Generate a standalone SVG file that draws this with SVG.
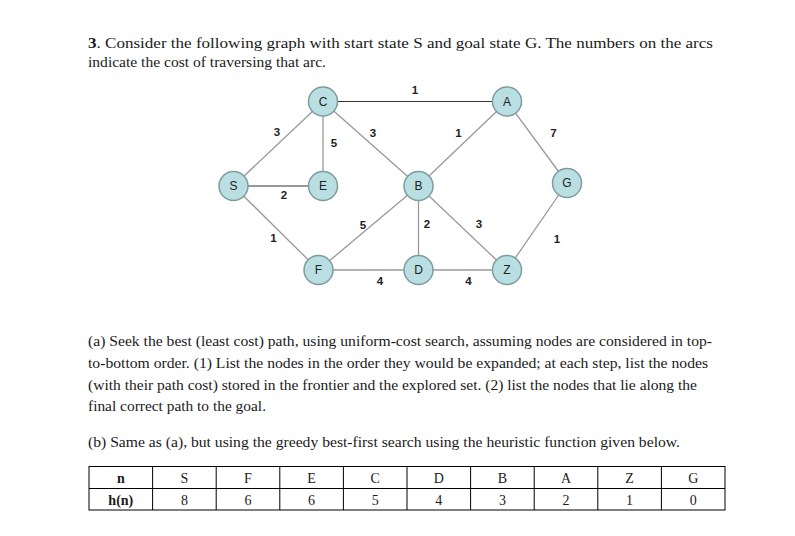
<svg xmlns="http://www.w3.org/2000/svg" width="795" height="536" viewBox="0 0 795 536">
<style>
.t{font-family:"Liberation Serif",serif;font-size:14.5px;fill:#1a1a1a}
.tc{font-family:"Liberation Serif",serif;font-size:14px;fill:#1a1a1a;text-anchor:middle}
.b{font-weight:bold}
.e{stroke:#999;stroke-width:1.3;fill:none}
.ed{stroke:#333;stroke-width:1.1;fill:none}
.n{fill:#b9dfe2;stroke:#7d9c9e;stroke-width:1.5}
.nl{font-family:"Liberation Sans",Arial,sans-serif;font-size:12px;fill:#222;text-anchor:middle}
.el{font-family:"Liberation Sans",Arial,sans-serif;font-size:11.5px;font-weight:bold;fill:#222;text-anchor:middle}
.tb{stroke:#000;stroke-width:1;fill:none}
</style>
<rect width="795" height="536" fill="#fff"/>
<text class="t" x="88" y="48" textLength="625" lengthAdjust="spacingAndGlyphs"><tspan class="b">3</tspan>. Consider  the  following  graph  with  start  state  S  and  goal  state  G.  The  numbers  on  the  arcs</text>
<text class="t" x="88" y="67" textLength="238" lengthAdjust="spacingAndGlyphs">indicate the cost of traversing that arc.</text>

<g id="connectors">
<line class="ed" x1="323" y1="101.5" x2="507" y2="101.5"/>
<line class="e" x1="323" y1="101.5" x2="233.5" y2="186"/>
<line class="e" x1="323" y1="101.5" x2="323" y2="186"/>
<line class="e" x1="323" y1="101.5" x2="418.5" y2="186"/>
<line class="e" x1="507" y1="101.5" x2="418.5" y2="186"/>
<line class="e" x1="507" y1="101.5" x2="567" y2="183"/>
<line class="ed" x1="233.5" y1="186" x2="323" y2="186"/>
<line class="e" x1="233.5" y1="186" x2="318.5" y2="270"/>
<line class="e" x1="318.5" y1="270" x2="418.5" y2="186"/>
<line class="e" x1="318.5" y1="270" x2="418.5" y2="270"/>
<line class="e" x1="418.5" y1="186" x2="418.5" y2="270"/>
<line class="e" x1="418.5" y1="186" x2="507" y2="270"/>
<line class="e" x1="418.5" y1="270" x2="507" y2="270"/>
<line class="e" x1="507" y1="270" x2="567" y2="183"/>
<text class="el" x="415" y="94">1</text>
<text class="el" x="277" y="135.5">3</text>
<text class="el" x="334" y="147">5</text>
<text class="el" x="373" y="136.5">3</text>
<text class="el" x="458.5" y="136.5">1</text>
<text class="el" x="553.5" y="136.5">7</text>
<text class="el" x="284" y="199">2</text>
<text class="el" x="273.5" y="242">1</text>
<text class="el" x="363" y="229">5</text>
<text class="el" x="380" y="285">4</text>
<text class="el" x="427" y="228">2</text>
<text class="el" x="479" y="228">3</text>
<text class="el" x="557" y="243">1</text>
<text class="el" x="468.5" y="285">4</text>
</g>

<g id="node-C"><circle class="n" cx="323" cy="101.5" r="14.5"/><text class="nl" x="323" y="105.7">C</text></g>
<g id="node-A"><circle class="n" cx="507" cy="101.5" r="14.5"/><text class="nl" x="507" y="105.7">A</text></g>
<g id="node-S"><circle class="n" cx="233.5" cy="186" r="14.5"/><text class="nl" x="233.5" y="190.2">S</text></g>
<g id="node-E"><circle class="n" cx="323" cy="186" r="14.5"/><text class="nl" x="323" y="190.2">E</text></g>
<g id="node-B"><circle class="n" cx="418.5" cy="186" r="14.5"/><text class="nl" x="418.5" y="190.2">B</text></g>
<g id="node-G"><circle class="n" cx="567" cy="183" r="14.5"/><text class="nl" x="567" y="187.2">G</text></g>
<g id="node-F"><circle class="n" cx="318.5" cy="270" r="14.5"/><text class="nl" x="318.5" y="274.2">F</text></g>
<g id="node-D"><circle class="n" cx="418.5" cy="270" r="14.5"/><text class="nl" x="418.5" y="274.2">D</text></g>
<g id="node-Z"><circle class="n" cx="507" cy="270" r="14.5"/><text class="nl" x="507" y="274.2">Z</text></g>

<text class="t" x="88" y="346" textLength="624" lengthAdjust="spacingAndGlyphs">(a) Seek the best (least cost) path, using uniform-cost search, assuming nodes are considered in top-</text>
<text class="t" x="88" y="368" textLength="620" lengthAdjust="spacingAndGlyphs">to-bottom order. (1) List the nodes in the order they would be expanded; at each step, list the nodes</text>
<text class="t" x="88" y="389.5" textLength="609" lengthAdjust="spacingAndGlyphs">(with their path cost) stored in the frontier and the explored set. (2) list the nodes that lie along the</text>
<text class="t" x="88" y="411" textLength="178" lengthAdjust="spacingAndGlyphs">final correct path to the goal.</text>
<text class="t" x="88" y="446.5" textLength="592" lengthAdjust="spacingAndGlyphs">(b) Same as (a), but using the greedy best-first search using the heuristic function given below.</text>

<g id="table">
<rect class="tb" x="89" y="466.5" width="636" height="43.5"/>
<line class="tb" x1="89" y1="488.5" x2="725" y2="488.5"/>
<line class="tb" x1="152.6" y1="466.5" x2="152.6" y2="510"/>
<line class="tb" x1="216.2" y1="466.5" x2="216.2" y2="510"/>
<line class="tb" x1="279.8" y1="466.5" x2="279.8" y2="510"/>
<line class="tb" x1="343.4" y1="466.5" x2="343.4" y2="510"/>
<line class="tb" x1="407" y1="466.5" x2="407" y2="510"/>
<line class="tb" x1="470.6" y1="466.5" x2="470.6" y2="510"/>
<line class="tb" x1="534.2" y1="466.5" x2="534.2" y2="510"/>
<line class="tb" x1="597.8" y1="466.5" x2="597.8" y2="510"/>
<line class="tb" x1="661.4" y1="466.5" x2="661.4" y2="510"/>
<text class="tc b" x="120.8" y="483">n</text>
<text class="tc" x="184.4" y="483">S</text>
<text class="tc" x="248" y="483">F</text>
<text class="tc" x="311.6" y="483">E</text>
<text class="tc" x="375.2" y="483">C</text>
<text class="tc" x="438.8" y="483">D</text>
<text class="tc" x="502.4" y="483">B</text>
<text class="tc" x="566" y="483">A</text>
<text class="tc" x="629.6" y="483">Z</text>
<text class="tc" x="693.2" y="483">G</text>
<text class="tc b" x="120.8" y="505">h(n)</text>
<text class="tc" x="184.4" y="505">8</text>
<text class="tc" x="248" y="505">6</text>
<text class="tc" x="311.6" y="505">6</text>
<text class="tc" x="375.2" y="505">5</text>
<text class="tc" x="438.8" y="505">4</text>
<text class="tc" x="502.4" y="505">3</text>
<text class="tc" x="566" y="505">2</text>
<text class="tc" x="629.6" y="505">1</text>
<text class="tc" x="693.2" y="505">0</text>
</g>
</svg>
